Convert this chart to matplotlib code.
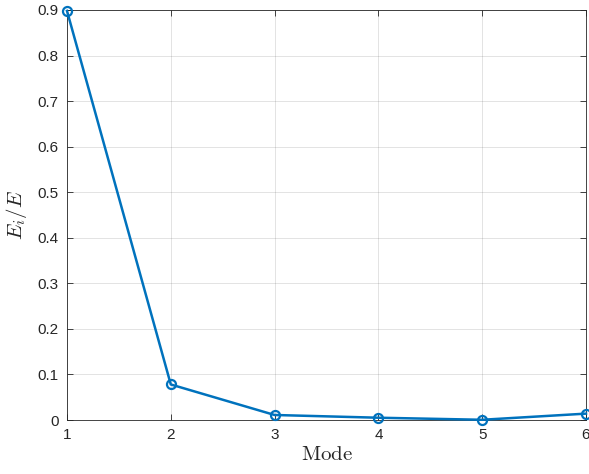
import numpy as np
import matplotlib.pyplot as plt

# energy fraction carried by each mode
modes = [1, 2, 3, 4, 5, 6]
energy_frac = [0.898, 0.078, 0.011, 0.005, 0.0005, 0.014]

xticks = [1, 2, 3, 4, 5, 6]
yticks = [0, 0.1, 0.2, 0.3, 0.4, 0.5, 0.6, 0.7, 0.8, 0.9]

plt.rcParams['font.family'] = ['Liberation Sans', 'DejaVu Sans']
plt.rcParams['mathtext.fontset'] = 'cm'

fig = plt.figure(figsize=(5.89, 4.74), dpi=100)
ax = fig.add_axes([67/589, 54/474, 519/589, 410/474])

ax.plot(modes, energy_frac, color='#0072BD', linewidth=1.8,
        marker='o', markersize=6.5, markerfacecolor='none',
        markeredgewidth=1.6, clip_on=False, zorder=3)

ax.set_xlim(1, 6)
ax.set_ylim(0, 0.9)
ax.set_xticks(xticks)
ax.set_yticks(yticks)
ax.set_yticklabels(['0'] + ['%.1f' % v for v in yticks[1:]])

ax.grid(True, color='#262626', alpha=0.15, linewidth=0.6)
ax.set_axisbelow(True)
for s in ax.spines.values():
    s.set_color('#262626')
    s.set_linewidth(0.6)
ax.tick_params(direction='in', length=4, width=0.6, colors='#262626',
               labelsize=11, top=True, right=True, pad=6)
for lbl in ax.get_xticklabels() + ax.get_yticklabels():
    lbl.set_color('#262626')

ax.set_xlabel(r'$\mathrm{Mode}$', fontsize=15, color='#262626', labelpad=2)
ax.set_ylabel(r'$E_i/E$', fontsize=15, color='#262626', labelpad=6)

fig.savefig('out.png', dpi=100)
